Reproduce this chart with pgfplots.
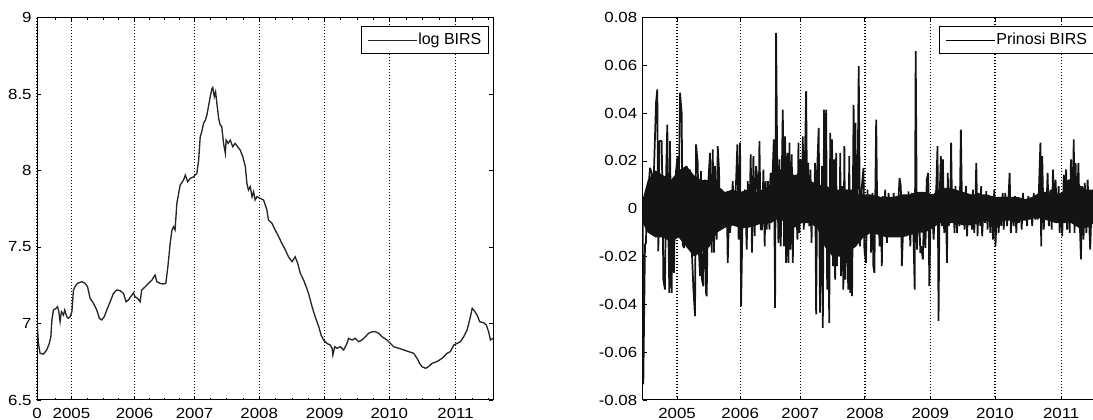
\documentclass[border=0pt]{standalone}
\usepackage{pgfplots}
\usepackage{pgfplotstable}
\pgfplotsset{compat=1.18}
\usepackage{fontspec}
\setmainfont{Liberation Sans}

% left series: observation index, log BIRS
\pgfplotstableread{
x y
0 7.023
5.5 6.870
12 6.805
25 6.800
38 6.827
48 6.870
54 6.914
58 7.023
64 7.088
74 7.099
80 7.110
85 7.077
90 7.012
95 7.077
103 7.055
108 7.088
116 7.044
122 7.034
129 7.044
136 7.077
142 7.219
148 7.240
158 7.262
174 7.273
188 7.262
197 7.240
207 7.164
220 7.132
233 7.088
243 7.034
252 7.023
262 7.044
272 7.088
285 7.142
298 7.197
311 7.219
324 7.214
337 7.197
347 7.142
356 7.153
370 7.186
376 7.201
382 7.175
392 7.164
402 7.142
408 7.219
422 7.240
434 7.262
448 7.284
460 7.317
467 7.273
480 7.262
493 7.258
502 7.262
510 7.371
519 7.524
526 7.611
532 7.632
538 7.611
545 7.785
552 7.850
558 7.905
571 7.937
578 7.970
587 7.926
597 7.948
610 7.959
623 7.981
630 8.068
636 8.220
642 8.253
649 8.308
656 8.329
662 8.362
668 8.416
675 8.482
682 8.536
685 8.543
691 8.482
696 8.514
701 8.438
708 8.340
714 8.297
720 8.286
727 8.177
734 8.112
737 8.199
745 8.177
753 8.199
763 8.155
772 8.177
782 8.155
792 8.133
802 8.090
812 8.024
818 7.915
824 7.872
831 7.894
838 7.828
844 7.861
850 7.807
857 7.828
869 7.818
883 7.807
896 7.741
902 7.676
916 7.654
928 7.611
942 7.567
954 7.524
968 7.480
980 7.436
994 7.404
1006 7.436
1016 7.393
1026 7.328
1039 7.284
1049 7.240
1058 7.197
1072 7.110
1084 7.044
1098 6.979
1107 6.925
1117 6.892
1130 6.870
1143 6.859
1150 6.838
1153 6.794
1160 6.848
1169 6.838
1182 6.848
1195 6.827
1208 6.870
1214 6.903
1228 6.892
1240 6.903
1254 6.881
1266 6.892
1280 6.914
1292 6.936
1306 6.946
1318 6.946
1332 6.936
1344 6.914
1364 6.892
1377 6.870
1390 6.848
1410 6.838
1429 6.827
1448 6.816
1468 6.805
1481 6.772
1491 6.740
1500 6.718
1514 6.707
1526 6.718
1540 6.740
1559 6.751
1578 6.772
1598 6.805
1611 6.816
1624 6.859
1637 6.870
1650 6.881
1663 6.914
1676 6.957
1689 7.044
1696 7.099
1702 7.088
1715 7.055
1725 7.012
1741 7.005
1751 6.990
1760 6.946
1767 6.892
1777 6.903
}\leftdata

% right series: observation index, Prinosi BIRS (visible spikes)
\pgfplotstableread{
x y
0 -0.002
2.5 -0.0735
9 -0.0150
13 -0.0143
15.5 0.0039
22 0.0080
28.5 0.0171
35 0.0150
41.5 -0.0031
44 0.0157
52 0.0443
57 0.0499
61 -0.0178
65 0.0283
74 0.0283
78 0.0011
80.5 -0.0296
87 -0.0338
91 0.0122
96 0.0352
100 -0.0087
104 -0.0352
106.5 0.0283
113 -0.0352
117 0.0066
122 -0.0268
126 0.0039
130 0.0157
136 0.0220
139 -0.0073
145.5 0.0485
152 0.0401
156 -0.0150
161 -0.0164
165 0.0101
171.5 0.0178
178 -0.0059
184.5 0.0164
188.5 -0.0101
193.5 -0.0226
197.5 -0.0331
204 -0.0449
208 0.0269
214.5 0.0192
219.5 -0.0184
223.5 -0.0282
227.5 0.0157
231 -0.0296
236.5 -0.0324
243 0.0122
247 -0.0352
249.5 -0.0366
256 0.0115
262.5 0.0234
269 -0.0184
273 0.0248
278 -0.0184
282 0.0178
288.5 -0.0129
292.5 0.0262
297.5 0.0164
301.5 -0.0087
308 0.0080
314.5 -0.0073
321 0.0066
327.5 0.0066
331.5 -0.0226
338 0.0039
340.5 -0.0101
344.5 -0.0031
351 0.0115
356 -0.0059
364 0.0115
369 0.0269
374 -0.0129
379.5 0.0276
383.5 -0.0408
388.5 -0.0087
392.5 0.0039
399 0.0080
405.5 -0.0171
409.5 0.0115
416 -0.0045
421 0.0227
426 -0.0184
431.5 0.0220
436.5 -0.0115
442 0.0178
447 0.0122
452 -0.0031
455 0.0283
460 -0.0087
465 -0.0087
470.5 0.0164
475.5 -0.0157
479.5 0.0115
483.5 -0.0087
488.5 0.0115
494 -0.0087
498 0.0150
503 0.0094
507 0.0164
511 0.0290
516 -0.0415
520 0.0736
524 0.0220
529 -0.0143
533 0.0206
538 -0.0157
543 0.0192
546 0.0415
551 -0.0157
555 0.0303
559 -0.0226
564 0.0234
568 -0.0226
572 0.0276
576 -0.0171
581 0.0227
585 -0.0226
590 0.0136
594 -0.0073
598 0.0053
603 -0.0129
607 0.0276
611 -0.0101
615 0.0206
620 -0.0052
624 0.0303
628 -0.0087
632 0.0178
637 0.0492
641 -0.0017
645 0.0192
649 -0.0073
654 0.0164
658 -0.0143
662 0.0080
667 -0.0031
672 0.0192
676 -0.0442
681 0.0192
686 0.0338
691 -0.0435
695 -0.0219
699 0.0178
702 -0.0498
707 0.0415
711 -0.0059
715 0.0415
719 -0.0338
723 0.0039
727 -0.0477
731 0.0317
734 -0.0171
738 0.0290
742 -0.0240
746 0.0206
750 -0.0296
754 0.0234
757 -0.0240
762 0.0039
766 -0.0184
770 0.0234
773 -0.0282
777 0.0094
782 -0.0338
786 0.0262
790 -0.0296
795 0.0080
801 -0.0338
805 0.0220
809 -0.0352
814 0.0080
816 -0.0366
822 0.0434
825 -0.0101
829 0.0359
832 -0.0017
837 0.0053
842 0.0596
847 -0.0157
853 0.0080
860.5 0.0171
864 -0.0171
870 -0.0226
876 0.0080
880 -0.0101
887 0.0053
890 -0.0184
896 0.0066
899 -0.0240
903 -0.0268
910 0.0373
915 -0.0101
919 0.0053
923 -0.0157
928 0.0039
932 -0.0240
936 0.0053
941 -0.0087
945 0.0080
952 -0.0143
958 0.0066
965 -0.0017
971 -0.0087
978 0.0066
984 -0.0101
991 0.0025
997 0.0039
1001 0.0129
1006 0.0094
1010 -0.0240
1017 -0.0017
1023 0.0053
1027 -0.0115
1032 -0.0101
1036 0.0073
1043 -0.0157
1049 0.0066
1056 -0.0143
1060 -0.0338
1064 0.0659
1069 -0.0171
1075 0.0066
1082 -0.0184
1085 -0.0157
1092 -0.0212
1097 0.0011
1102 -0.0164
1107 0.0122
1113 0.0150
1117 -0.0324
1121 -0.0087
1127 0.0011
1134 -0.0129
1140 0.0053
1144 0.0080
1149 0.0262
1153 -0.0470
1157 0.0039
1162 0.0220
1166 -0.0073
1170 0.0206
1175 -0.0101
1180 0.0080
1186 -0.0226
1189 0.0150
1193 -0.0073
1199 0.0039
1202 0.0276
1206 -0.0031
1212 0.0080
1215 -0.0101
1219 0.0094
1225 -0.0101
1231 0.0073
1235 -0.0073
1240 0.0331
1245 -0.0031
1251 0.0053
1254 -0.0087
1260 0.0094
1264 -0.0115
1270 0.0053
1274 -0.0045
1279 0.0039
1283 -0.0087
1287 0.0080
1292 -0.0101
1297 0.0039
1300 0.0192
1305 -0.0115
1310 0.0066
1316 -0.0073
1319 0.0094
1323 -0.0115
1329 0.0025
1334 -0.0059
1339 0.0073
1344 -0.0087
1349 0.0039
1355 -0.0101
1361 0.0053
1365 -0.0129
1370 0.0080
1375 -0.0157
1381 0.0039
1387 -0.0101
1394 0.0039
1397 -0.0073
1403 0.0066
1407 -0.0087
1413 0.0066
1420 -0.0073
1426 0.0053
1430 0.0150
1435 -0.0101
1440 0.0025
1446 -0.0073
1451 0.0053
1456 -0.0101
1461 0.0039
1466 -0.0059
1472 0.0039
1477 -0.0087
1482 0.0066
1487 -0.0031
1492 0.0039
1498 -0.0073
1503 0.0053
1508 -0.0045
1513 0.0039
1518 -0.0073
1524 0.0066
1530 -0.0045
1534 0.0039
1539 -0.0045
1544 0.0073
1550 0.0276
1553 -0.0157
1557 0.0220
1563 -0.0087
1568 0.0039
1573 -0.0017
1578 0.0150
1583 -0.0073
1589 0.0080
1594 -0.0087
1599 0.0164
1604 -0.0017
1609 0.0122
1615 -0.0045
1621 0.0094
1625 -0.0101
1630 0.0039
1635 -0.0115
1641 0.0143
1644 -0.0017
1650 0.0164
1654 -0.0087
1659 0.0122
1664 -0.0101
1669 0.0206
1674 -0.0031
1680 0.0290
1683 -0.0101
1687 0.0192
1692 -0.0031
1698 0.0192
1703 -0.0045
1708 -0.0212
1713 0.0094
1718 -0.0129
1723 0.0108
1729 -0.0101
1734 0.0122
1739 -0.0031
1744 -0.0171
1751 0.0066
1756 -0.0045
1762 0.0080
1768 -0.0060
1772 0.0050
1777 -0.0020
}\rightdata

% solid core of the dense daily returns (upper edge forward, lower edge back)
\pgfplotstableread{
x y
0 0.004
20 0.012
50 0.016
80 0.014
110 0.012
140 0.016
170 0.018
200 0.014
230 0.012
260 0.012
290 0.010
320 0.007
350 0.008
380 0.007
410 0.008
440 0.007
470 0.008
500 0.010
530 0.016
560 0.018
590 0.014
620 0.015
650 0.012
680 0.010
710 0.010
740 0.008
770 0.008
800 0.008
830 0.006
860 0.006
890 0.006
920 0.005
950 0.005
980 0.005
1010 0.006
1040 0.006
1070 0.007
1100 0.007
1130 0.006
1160 0.008
1190 0.009
1220 0.008
1250 0.007
1280 0.006
1310 0.006
1340 0.006
1370 0.005
1400 0.005
1430 0.005
1460 0.005
1490 0.004
1520 0.005
1550 0.007
1580 0.007
1610 0.006
1640 0.007
1670 0.010
1700 0.010
1730 0.008
1760 0.008
1777 0.006
1777 -0.006
1760 -0.006
1730 -0.008
1700 -0.008
1670 -0.006
1640 -0.006
1610 -0.006
1580 -0.005
1550 -0.004
1520 -0.004
1490 -0.005
1460 -0.005
1430 -0.005
1400 -0.005
1370 -0.006
1340 -0.005
1310 -0.006
1280 -0.007
1250 -0.007
1220 -0.006
1190 -0.006
1160 -0.006
1130 -0.008
1100 -0.010
1070 -0.010
1040 -0.011
1010 -0.012
980 -0.012
950 -0.012
920 -0.011
890 -0.010
860 -0.012
830 -0.016
800 -0.018
770 -0.020
740 -0.020
710 -0.016
680 -0.008
650 -0.006
620 -0.006
590 -0.008
560 -0.006
530 -0.004
500 -0.006
470 -0.006
440 -0.007
410 -0.008
380 -0.008
350 -0.007
320 -0.008
290 -0.010
260 -0.016
230 -0.018
200 -0.020
170 -0.016
140 -0.012
110 -0.014
80 -0.012
50 -0.012
20 -0.010
0 -0.006
}\rightcore

\pgfplotsset{
  panel/.style={
    scale only axis, width=342pt, height=286.9pt,
    anchor=south west,
    xmin=0, xmax=1777,
    scaled x ticks=false, scaled y ticks=false,
    axis line style={line width=0.75pt},
    tick style={black, line width=0.6pt},
    major tick length=3pt, minor tick length=1.6pt,
    tick align=inside,
    xtick={134,380,614,866,1121,1373,1631},
    xmajorgrids=true, ymajorgrids=false,
    major grid style={black, line width=1pt, dash pattern=on 1pt off 1.25pt},
    tick label style={font=\fontsize{11}{13}\selectfont, xscale=1.15},
    xticklabel style={yshift=-3pt},
    legend style={font=\fontsize{12}{14}\selectfont, at={(1,1)}, anchor=north east,
      xshift=-3pt, yshift=-6.4pt, draw=black, line width=0.75pt, fill=white,
      inner xsep=4.5pt, inner ysep=3pt, nodes={inner xsep=0.8pt, inner ysep=2pt}},
    legend cell align=left,
    legend image code/.code={\draw[##1, line width=0.6pt] (0pt,0pt) -- (36.5pt,0pt);},
  }
}

\begin{document}
\begin{tikzpicture}
\clip (0pt,0pt) rectangle (819.75pt,315pt);
\useasboundingbox (0pt,0pt) rectangle (819.75pt,315pt);

\begin{axis}[panel, at={(27.75pt,15pt)},
  xtick={0,134,380,614,866,1121,1373,1631},
  xticklabels={0,2005,2006,2007,2008,2009,2010,2011},
  minor xtick={72,195,257,318,438,497,556,677,740,803,930,994,1057,1184,1247,1310,1438,1502,1567,1695,1759},
  ymin=6.5, ymax=9,
  ytick={6.5,7,7.5,8,8.5,9},
  yticklabels={6.5,7,7.5,8,8.5,9},
]
\addplot[black!85, line width=1pt] table[x=x,y=y] {\leftdata};
\addlegendentry{log BIRS}
\end{axis}

\begin{axis}[panel, at={(482pt,15pt)},
  xticklabels={2005,2006,2007,2008,2009,2010,2011},
  ymin=-0.08, ymax=0.08,
  ytick={-0.08,-0.06,-0.04,-0.02,0,0.02,0.04,0.06,0.08},
  yticklabels={-0.08,-0.06,-0.04,-0.02,0,0.02,0.04,0.06,0.08},
]
\addplot[fill=black!92, draw=none, forget plot] table[x=x,y=y] {\rightcore} -- cycle;
\addplot[black!92, line width=1.3pt, line join=bevel, forget plot] table[x=x,y=y] {\rightdata};
\addlegendimage{black, line width=0.6pt}
\addlegendentry{Prinosi BIRS}
\end{axis}
\end{tikzpicture}
\end{document}
